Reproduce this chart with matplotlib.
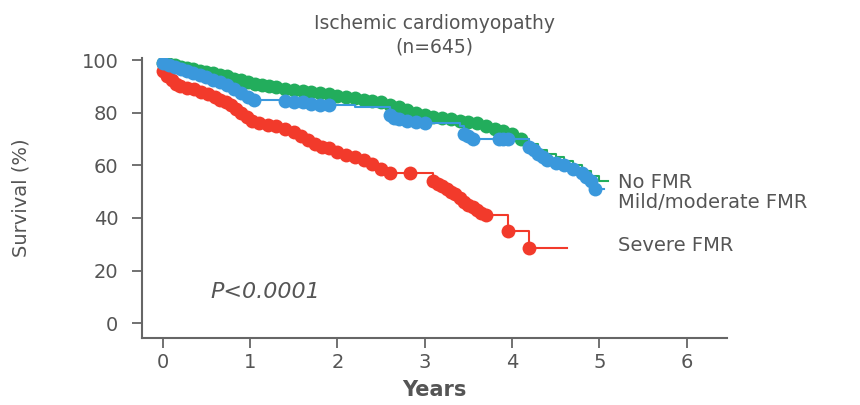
import matplotlib
matplotlib.use("Agg")
import matplotlib.pyplot as plt
import numpy as np

# ---- data ----
no_fmr_t = [0.0, 0.07, 0.14, 0.21, 0.28, 0.35, 0.42, 0.5, 0.58, 0.66, 0.74, 0.82, 0.9, 0.98,
            1.06, 1.14, 1.22, 1.3, 1.4, 1.5, 1.6, 1.7, 1.8, 1.9, 2.0, 2.1, 2.2, 2.3, 2.4, 2.5,
            2.6, 2.7, 2.8, 2.9, 3.0, 3.1, 3.2, 3.3, 3.4, 3.5, 3.6, 3.7, 3.8, 3.9, 4.0, 4.1,
            4.2, 4.3, 4.4, 4.5, 4.6, 4.7, 4.8, 4.9, 5.0, 5.1]
no_fmr_s = [99, 98.5, 98, 97.5, 97, 96.5, 96, 95.5, 95, 94.5, 93.8, 93, 92.3, 91.6,
            91, 90.5, 90, 89.6, 89, 88.6, 88.2, 88, 87.6, 87, 86.5, 86, 85.5, 85, 84.5, 84,
            83, 82, 81, 80, 79, 78.5, 78, 77.5, 77, 76.5, 76, 75, 74, 73, 72, 70,
            68, 66, 64.5, 63, 61.5, 60, 58, 56, 54, 54]
no_fmr_censor = [0.0, 0.07, 0.14, 0.21, 0.28, 0.35, 0.42, 0.5, 0.58, 0.66, 0.74, 0.82, 0.9,
                 0.98, 1.06, 1.14, 1.22, 1.3, 1.4, 1.5, 1.6, 1.7, 1.8, 1.9, 2.0, 2.1, 2.2,
                 2.3, 2.4, 2.5, 2.6, 2.7, 2.8, 2.9, 3.0, 3.1, 3.2, 3.3, 3.4, 3.5, 3.6, 3.7,
                 3.8, 3.9, 4.0, 4.1]

mild_t = [0.0, 0.07, 0.14, 0.21, 0.28, 0.35, 0.42, 0.5, 0.58, 0.66, 0.74, 0.82, 0.9, 0.98,
          1.05, 1.4, 1.5, 1.6, 1.7, 1.8, 1.9, 2.2, 2.6, 2.65, 2.7, 2.8, 2.9, 3.0, 3.4, 3.45,
          3.5, 3.55, 3.85, 3.9, 3.95, 4.2, 4.25, 4.3, 4.35, 4.4, 4.5, 4.6, 4.7, 4.8, 4.85,
          4.9, 4.95, 5.05]
mild_s = [99, 98, 97.5, 96.5, 96, 95, 94.5, 93.5, 92.5, 91.5, 90.5, 89, 87.5, 86,
          85, 84.5, 84, 84, 83.5, 83, 83, 82, 79, 78, 77.5, 77, 76.5, 76, 75, 72,
          71, 70, 70, 70, 70, 67, 66, 64.5, 63, 62, 61, 60, 58.5, 57, 55.5,
          54, 51, 51]
mild_censor = [0.0, 0.07, 0.14, 0.21, 0.28, 0.35, 0.42, 0.5, 0.58, 0.66, 0.74, 0.82, 0.9,
               0.98, 1.05, 1.4, 1.5, 1.6, 1.7, 1.8, 1.9, 2.6, 2.65, 2.7, 2.8, 2.9, 3.0,
               3.45, 3.5, 3.55, 3.85, 3.9, 3.95, 4.2, 4.25, 4.3, 4.35, 4.4, 4.5, 4.6,
               4.7, 4.8, 4.85, 4.9, 4.95]

severe_t = [0.0, 0.05, 0.1, 0.15, 0.2, 0.28, 0.36, 0.44, 0.52, 0.6, 0.66, 0.72, 0.78, 0.84,
            0.9, 0.96, 1.02, 1.1, 1.2, 1.3, 1.4, 1.5, 1.58, 1.66, 1.74, 1.82, 1.9, 2.0, 2.1,
            2.2, 2.3, 2.4, 2.5, 2.6, 3.1, 3.15, 3.2, 3.25, 3.3, 3.35, 3.4, 3.45, 3.5, 3.55,
            3.6, 3.65, 3.7, 3.95, 4.2, 4.63]
severe_s = [96, 94, 92.5, 91, 90, 89.5, 89, 88, 87, 86, 85, 84, 83, 81.5,
            80, 78.5, 77, 76, 75.5, 75, 74, 72.5, 71, 69.5, 68, 67, 66.5, 65, 64,
            63, 62, 60.5, 58.5, 57, 54, 53, 52, 51, 50, 49, 47.5, 46, 45, 44,
            43, 42, 41, 35, 28.5, 28.5]
severe_censor = [0.0, 0.05, 0.1, 0.15, 0.2, 0.28, 0.36, 0.44, 0.52, 0.6, 0.66, 0.72, 0.78,
                 0.84, 0.9, 0.96, 1.02, 1.1, 1.2, 1.3, 1.4, 1.5, 1.58, 1.66, 1.74, 1.82,
                 1.9, 2.0, 2.1, 2.2, 2.3, 2.4, 2.5, 2.6, 2.83, 3.1, 3.15, 3.2, 3.25, 3.3,
                 3.35, 3.4, 3.45, 3.5, 3.55, 3.6, 3.65, 3.7, 3.95, 4.2]

series = [
    ("No FMR", no_fmr_t, no_fmr_s, no_fmr_censor, "#22ad5c"),
    ("Severe FMR", severe_t, severe_s, severe_censor, "#f23a2b"),
    ("Mild/moderate FMR", mild_t, mild_s, mild_censor, "#3a98dc"),
]
label_pos = {"No FMR": 53.6, "Mild/moderate FMR": 46.0, "Severe FMR": 29.7}

x_ticks = [0, 1, 2, 3, 4, 5, 6]
y_ticks = [0, 20, 40, 60, 80, 100]


def step_value(t_steps, s_steps, t):
    idx = np.searchsorted(t_steps, t, side="right") - 1
    return np.asarray(s_steps)[idx]


txt = "#555555"
plt.rcParams['font.family'] = ['DejaVu Sans']

fig = plt.figure(figsize=(8.6, 4.05), dpi=100)
ax = fig.add_axes([0.165, 0.165, 0.68, 0.693])

for z, (name, t, s, cens, c) in enumerate(series):
    ax.step(t, s, where="post", color=c, lw=1.5, zorder=2 + z)
    ax.plot(cens, step_value(t, s, cens), "o", color=c, ms=10, mec="none", zorder=2 + z)
    ax.text(5.21, label_pos[name], name, color=txt, fontsize=14,
            va="center", ha="left", clip_on=False)

ax.set_xlim(-0.24, 6.46)
ax.set_ylim(-5.7, 101)
ax.set_xticks(x_ticks)
ax.set_yticks(y_ticks)
ax.tick_params(axis="both", colors="#666666", labelcolor=txt, labelsize=14,
               length=7, width=1.3, direction="out")
ax.tick_params(axis="y", pad=10)
for sp in ["top", "right"]:
    ax.spines[sp].set_visible(False)
for sp in ["left", "bottom"]:
    ax.spines[sp].set_color("#666666")
    ax.spines[sp].set_linewidth(1.5)

ax.set_xlabel("Years", fontsize=15, color=txt, fontweight="bold", labelpad=6)
ax.set_ylabel("Survival (%)", fontsize=14, color=txt)
ax.yaxis.set_label_coords(-0.19, 0.5)
ax.text(1.17, 11.8, "P<0.0001", fontsize=16, style="italic", color=txt,
        ha="center", va="center")
fig.text(0.505, 0.965, "Ischemic cardiomyopathy\n(n=645)", fontsize=13.5, color=txt,
         ha="center", va="top", linespacing=1.3)

fig.savefig("out.png", dpi=100)
